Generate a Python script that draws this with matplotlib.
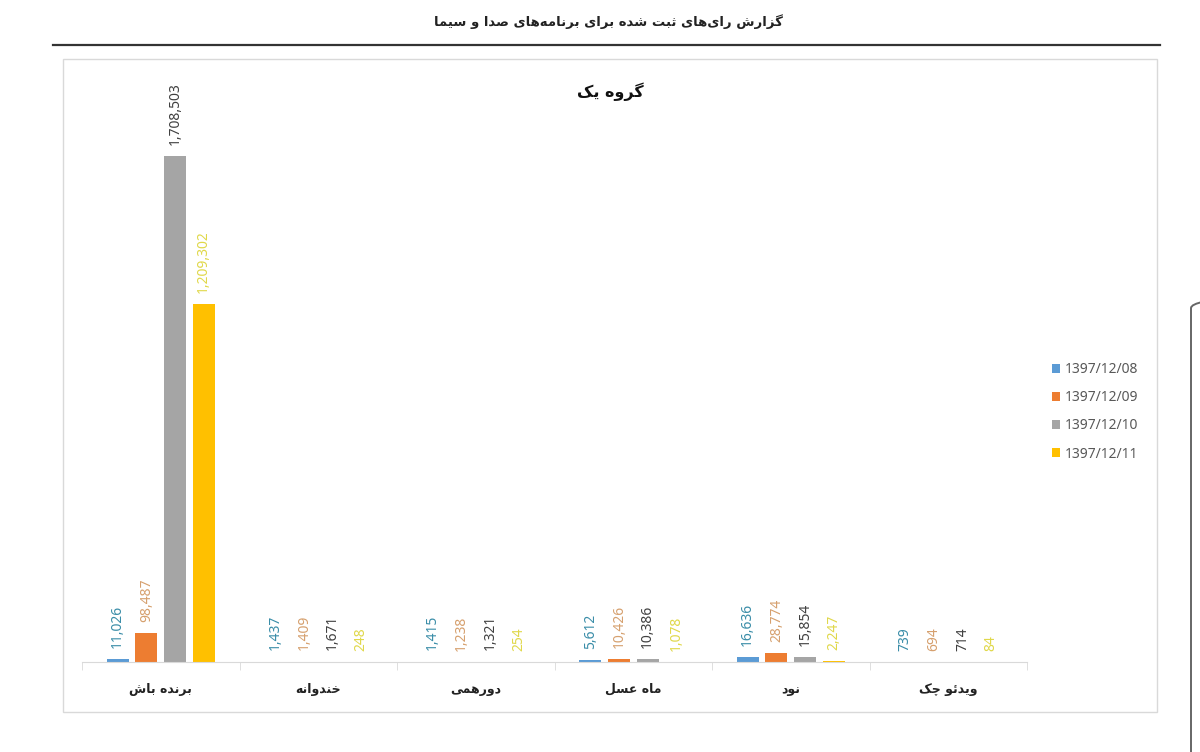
import matplotlib
matplotlib.use("Agg")
import matplotlib.pyplot as plt
from matplotlib.patches import Rectangle, FancyBboxPatch
from matplotlib.lines import Line2D
import numpy as np

# data
page_title = "گزارش رای\u200cهای ثبت شده برای برنامه\u200cهای صدا و سیما"
chart_title = "گروه یک"
categories = ["برنده باش", "خندوانه", "دورهمی", "ماه عسل", "نود", "ویدئو چک"]
series_names = ["1397/12/08", "1397/12/09", "1397/12/10", "1397/12/11"]
votes_0808 = [11026, 1437, 1415, 5612, 16636, 739]
votes_0809 = [98487, 1409, 1238, 10426, 28774, 694]
votes_0810 = [1708503, 1671, 1321, 10386, 15854, 714]
votes_0811 = [1209302, 248, 254, 1078, 2247, 84]

bar_colors = ["#5B9BD5", "#ED7D31", "#A5A5A5", "#FFC000"]
label_colors = ["#3A8DA8", "#D6A06E", "#404040", "#E0D84A"]

# matplotlib does no arabic shaping, so pick presentation forms by hand
# (isolated, final, initial, medial)
FORMS = {
    "\u0627": ("\uFE8D", "\uFE8E", None, None),
    "\u062F": ("\uFEA9", "\uFEAA", None, None),
    "\u0631": ("\uFEAD", "\uFEAE", None, None),
    "\u0632": ("\uFEAF", "\uFEB0", None, None),
    "\u0648": ("\uFEED", "\uFEEE", None, None),
    "\u0628": ("\uFE8F", "\uFE90", "\uFE91", "\uFE92"),
    "\u062A": ("\uFE95", "\uFE96", "\uFE97", "\uFE98"),
    "\u062B": ("\uFE99", "\uFE9A", "\uFE9B", "\uFE9C"),
    "\u062E": ("\uFEA5", "\uFEA6", "\uFEA7", "\uFEA8"),
    "\u0633": ("\uFEB1", "\uFEB2", "\uFEB3", "\uFEB4"),
    "\u0634": ("\uFEB5", "\uFEB6", "\uFEB7", "\uFEB8"),
    "\u0635": ("\uFEB9", "\uFEBA", "\uFEBB", "\uFEBC"),
    "\u0639": ("\uFEC9", "\uFECA", "\uFECB", "\uFECC"),
    "\u0644": ("\uFEDD", "\uFEDE", "\uFEDF", "\uFEE0"),
    "\u0645": ("\uFEE1", "\uFEE2", "\uFEE3", "\uFEE4"),
    "\u0646": ("\uFEE5", "\uFEE6", "\uFEE7", "\uFEE8"),
    "\u0647": ("\uFEE9", "\uFEEA", "\uFEEB", "\uFEEC"),
    "\u0626": ("\uFE89", "\uFE8A", "\uFE8B", "\uFE8C"),
    "\u06CC": ("\uFBFC", "\uFBFD", "\uFBFE", "\uFBFF"),
    "\u06A9": ("\uFB8E", "\uFB8F", "\uFB90", "\uFB91"),
    "\u06AF": ("\uFB92", "\uFB93", "\uFB94", "\uFB95"),
    "\u0686": ("\uFB7A", "\uFB7B", "\uFB7C", "\uFB7D"),
}


def fa(text):
    out = []
    for i, c in enumerate(text):
        if c not in FORMS:
            out.append("" if c == "\u200c" else c)
            continue
        prev = text[i - 1] if i > 0 else None
        nxt = text[i + 1] if i + 1 < len(text) else None
        iso, fin, ini, med = FORMS[c]
        join_prev = prev in FORMS and FORMS[prev][2] is not None
        join_next = ini is not None and nxt in FORMS
        if join_prev and join_next:
            out.append(med)
        elif join_prev:
            out.append(fin)
        elif join_next:
            out.append(ini)
        else:
            out.append(iso)
    return "".join(out)[::-1]


W, H = 1200, 752
fig = plt.figure(figsize=(W / 100, H / 100), dpi=100)
fig.patch.set_facecolor("white")

# page heading + rule
fig.text(608 / W, 1 - 22 / H, fa(page_title), ha="center", va="center",
         fontsize=9.5, fontweight="bold", family="DejaVu Sans", color="#222222")
fig.add_artist(Line2D([53 / W, 1160 / W], [1 - 45 / H, 1 - 45 / H],
                      color="#333333", lw=1.6))

# chart frame
fig.add_artist(Rectangle((63 / W, 1 - 712 / H), (1157 - 63) / W, (712 - 59) / H,
                         fill=False, edgecolor="#D9D9D9", lw=1.0))

# rounded edge of something on the right side of the screenshot
fig.add_artist(FancyBboxPatch((1191 / W, -0.1), 0.2, 1 - 293 / H + 0.1,
                              boxstyle="round,pad=0,rounding_size=0.02",
                              fill=False, edgecolor="#666666", lw=1.4))

fig.text(610 / W, 1 - 92 / H, fa(chart_title), ha="center", va="center",
         fontsize=11.5, fontweight="bold", family="DejaVu Sans", color="#111111")

ax = fig.add_axes([82 / W, 1 - 662 / H, (1027 - 82) / W, (662 - 120) / H])

x = np.arange(len(categories))
all_series = [votes_0808, votes_0809, votes_0810, votes_0811]
step = 0.182
width = 0.14
for i, vals in enumerate(all_series):
    bars = ax.bar(x + (i - 1.5) * step, vals, width, color=bar_colors[i],
                  label=series_names[i], zorder=2)
    ax.bar_label(bars, labels=[f"{v:,}" for v in vals], rotation=90,
                 padding=8, color=label_colors[i], fontsize=10,
                 family="Noto Sans")

ax.set_xlim(-0.5, len(categories) - 0.5)
ax.set_ylim(0, 1830000)
ax.set_yticks([])
for s in ["top", "left", "right"]:
    ax.spines[s].set_visible(False)
ax.spines["bottom"].set_color("#D9D9D9")
ax.set_xticks(x)
ax.set_xticklabels([fa(c) for c in categories], fontsize=9, fontweight="bold",
                   family="DejaVu Sans", color="#222222")
ax.tick_params(axis="x", which="major", length=0, pad=15)
ax.set_xticks(np.arange(-0.5, len(categories)), minor=True)
ax.tick_params(axis="x", which="minor", length=6, color="#D9D9D9")

leg = fig.legend(loc="upper left", bbox_to_anchor=(1052 / W, 1 - 362 / H),
                 frameon=False, handlelength=0.6, handleheight=0.6,
                 handletextpad=0.35, labelspacing=0.95, borderaxespad=0,
                 borderpad=0, prop={"family": "Noto Sans", "size": 10})
for t in leg.get_texts():
    t.set_color("#595959")

fig.savefig("out.png", dpi=100)
